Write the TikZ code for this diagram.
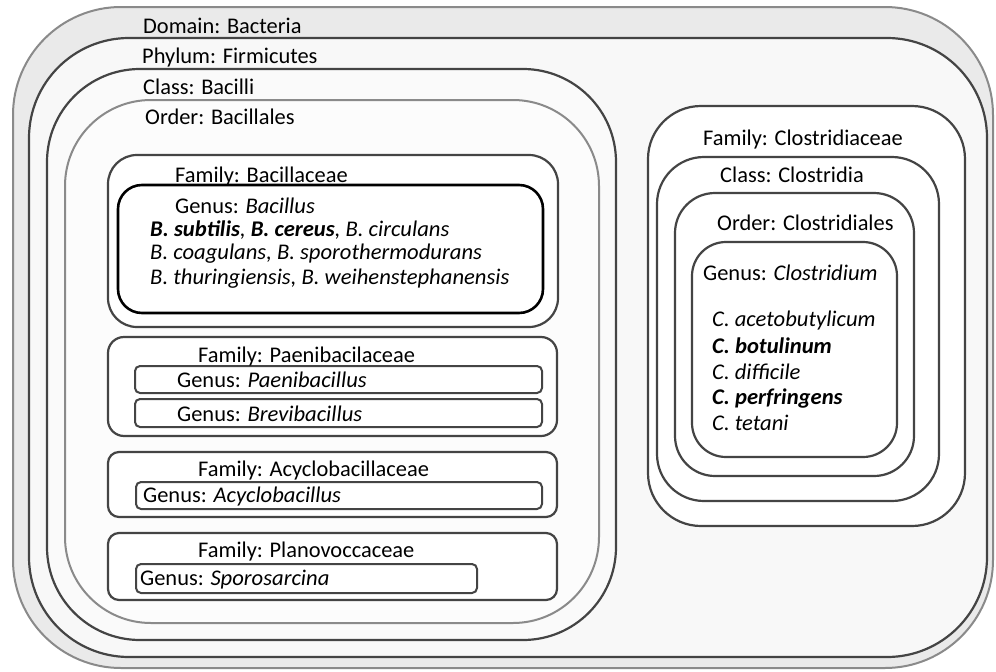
\documentclass[tikz,border=0pt]{standalone}
\usepackage{fontspec}
\setmainfont{Carlito}[ItalicFeatures={FakeStretch=1.01},BoldItalicFeatures={FakeStretch=1.01}]
\definecolor{ringfill}{HTML}{EAEAEA}
\definecolor{phylumfill}{HTML}{F8F8F8}
\definecolor{classfill}{HTML}{FAFAFA}
\definecolor{orderfill}{HTML}{FCFCFC}
\definecolor{softline}{HTML}{8A8A8A}
\definecolor{darkline}{HTML}{444444}
\begin{document}
\begin{tikzpicture}[x=1pt,y=-1pt,
  font=\fontsize{22.4}{25}\selectfont,
  softbox/.style={draw=softline,line width=2pt},
  darkbox/.style={draw=darkline,line width=2.2pt},
  genusbox/.style={draw=darkline,line width=2pt,fill=white},
  label/.style={anchor=base west,inner sep=0pt,text=black}]
\useasboundingbox (0,0) rectangle (996,672);

% nested ranks, outermost first
\draw[softbox,fill=ringfill,rounded corners=108pt] (13,7) rectangle (993,668);
\draw[darkbox,fill=phylumfill,rounded corners=100pt] (29,38) rectangle (987,657);
\draw[darkbox,fill=classfill,rounded corners=93pt] (47,69) rectangle (616,640);
\draw[softbox,fill=orderfill,rounded corners=86pt] (65,100) rectangle (599,623);

% Bacillales families
\draw[darkbox,fill=white,rounded corners=29pt] (108,155) rectangle (558,327);
\draw[draw=black,line width=2.6pt,fill=white,rounded corners=24pt] (118,185) rectangle (543,313);
\draw[darkbox,fill=white,rounded corners=16pt] (108,337) rectangle (557,436);
\draw[genusbox,rounded corners=5pt] (135,366) rectangle (542,393);
\draw[genusbox,rounded corners=5pt] (135,399) rectangle (542,427);
\draw[darkbox,fill=white,rounded corners=11pt] (108,452) rectangle (557,517);
\draw[genusbox,rounded corners=5pt] (136,482) rectangle (542,509);
\draw[darkbox,fill=white,rounded corners=11pt] (108,533) rectangle (557,600);
\draw[genusbox,rounded corners=5pt] (136,564) rectangle (477,593);

% Clostridia branch
\draw[darkbox,fill=white,rounded corners=53pt] (648,106) rectangle (965,526);
\draw[darkbox,fill=white,rounded corners=47pt] (657,157) rectangle (939,501);
\draw[darkbox,fill=white,rounded corners=40pt] (675,193) rectangle (914,476);
\draw[darkbox,fill=white,rounded corners=34pt] (692,242) rectangle (897,457);

% rank labels
\node[label] (domain) at (143,33) {Domain: Bacteria};
\node[label] (phylum) at (142,63) {Phylum: Firmicutes};
\node[label] (class) at (143,94) {Class: Bacilli};
\node[label] (order) at (145,124) {Order: Bacillales};

\node[label] (fambac) at (175,182) {Family: Bacillaceae};
\node[label] (genbac) at (175,213) {Genus: \textit{Bacillus}};
\node[label] (bac1) at (150,236) {\itshape\textbf{B. subtilis}, \textbf{B. cereus}, B. circulans};
\node[label] (bac2) at (150,259) {\itshape B. coagulans, B. sporothermodurans};
\node[label] (bac3) at (150,284) {\itshape B. thuringiensis, B. weihenstephanensis};

\node[label] (fampae) at (198,362) {Family: Paenibacilaceae};
\node[label] (genpae) at (177,387) {Genus: \textit{Paenibacillus}};
\node[label] (genbre) at (177,421) {Genus: \textit{Brevibacillus}};

\node[label] (famacy) at (198,476) {Family: Acyclobacillaceae};
\node[label] (genacy) at (143,502) {Genus: \textit{Acyclobacillus}};

\node[label] (fampla) at (198,557) {Family: Planovoccaceae};
\node[label] (genspo) at (140,585) {Genus: \textit{Sporosarcina}};

\node[label] (famclo) at (703,145) {Family: Clostridiaceae};
\node[label] (clacl) at (720,182) {Class: Clostridia};
\node[label] (ordcl) at (717,230) {Order: Clostridiales};
\node[label] (genclo) at (703,280) {Genus: \textit{Clostridium}};
\node[label] (clo1) at (712,326) {\itshape C. acetobutylicum};
\node[label] (clo2) at (712,353) {\itshape\bfseries C. botulinum};
\node[label] (clo3) at (712,379) {\itshape C. difficile};
\node[label] (clo4) at (712,404) {\itshape\bfseries C. perfringens};
\node[label] (clo5) at (712,430) {\itshape C. tetani};
\end{tikzpicture}
\end{document}
